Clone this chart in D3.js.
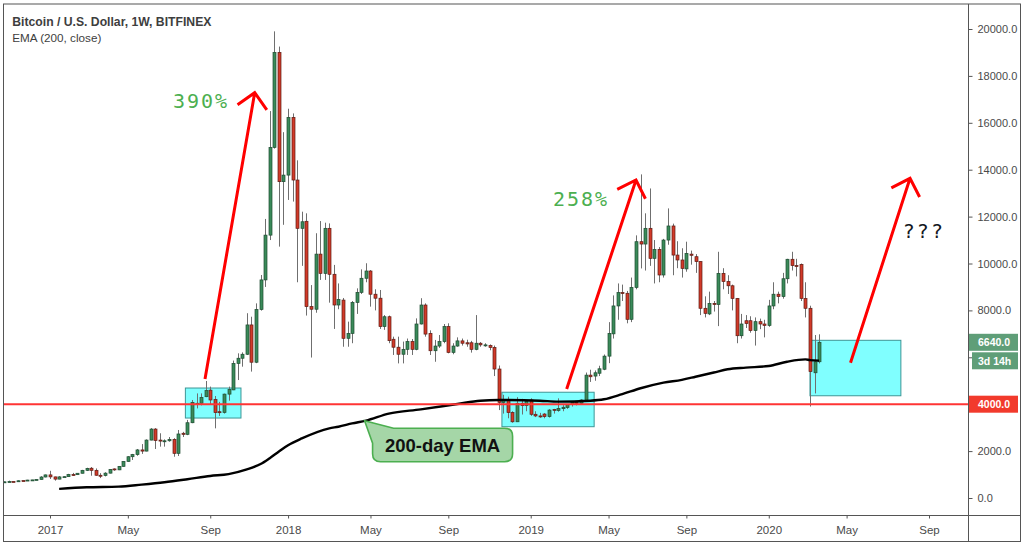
<!DOCTYPE html>
<html>
<head>
<meta charset="utf-8">
<script src="https://cdn.jsdelivr.net/npm/d3@7"></script>
<style>
  html, body { margin: 0; padding: 0; background: #fff; }
  svg { display: block; font-family: 'Liberation Sans', Arial, sans-serif; }
</style>
</head>
<body>
<svg id="chart" width="1030" height="547"></svg>
<script>
/* Weekly BTC/USD candles (Bitfinex), first week Mon 2016-10-24, last week Mon 2020-03-23 */
const firstWeek = '2016-10-24'
const lastWeek = '2020-03-23'

const opens = [
  660, 690, 705, 700, 740, 730, 765, 772, 790, 895,
  985, 900, 805, 900, 910, 1000, 995, 1055, 1180, 1270,
  1180, 970, 960, 1060, 1240, 1200, 1350, 1560, 1760, 1850,
  2050, 2000, 2470, 2940, 2470, 2430, 2440, 2500, 1905, 2760,
  2715, 3210, 3990, 4040, 4320, 4600, 4200, 3680, 3650, 4430,
  4610, 5740, 5960, 6130, 7380, 5790, 8040, 9300, 11210, 14950,
  19000, 13490, 13770, 16230, 13560, 11500, 11800, 8160, 8050, 10400,
  9580, 11500, 9540, 8230, 8440, 6810, 7020, 8340, 8770, 9370,
  9680, 8690, 8520, 7310, 7730, 6770, 6430, 6130, 6340, 6670,
  6340, 7420, 8230, 7020, 6280, 6480, 6670, 7310, 6210, 6480,
  6700, 6620, 6620, 6340, 6600, 6530, 6500, 6420, 5500, 4080,
  4180, 3640, 3250, 4040, 3940, 4180, 3570, 3500, 3580, 3470,
  3780, 3730, 3810, 3860, 3990, 4080, 4040, 4110, 5240, 5200,
  5320, 5490, 6050, 7000, 8190, 8760, 8730, 7620, 8980, 10930,
  10830, 11500, 10220, 10600, 9510, 11000, 11600, 10360, 10150, 9770,
  10400, 10290, 10080, 8090, 7850, 8300, 8250, 9580, 9230, 9050,
  8510, 6920, 7560, 7560, 7140, 7520, 7420, 7360, 8190, 8690,
  8590, 9350, 10180, 9910, 9960, 8510, 8090, 5340, 5810
]
const highs = [
  705, 740, 720, 750, 750, 775, 775, 800, 930, 1000,
  1160, 910, 930, 925, 1030, 1070, 1060, 1200, 1290, 1320,
  1260, 1060, 1100, 1230, 1260, 1360, 1570, 1780, 1880, 2090,
  2300, 2500, 2980, 2980, 2760, 2500, 2600, 2550, 2900, 2820,
  3330, 4180, 4460, 4460, 4990, 4750, 4350, 4100, 4450, 4750,
  5860, 6170, 6210, 7880, 7730, 8300, 9510, 11900, 16500, 19900,
  19250, 15600, 16600, 16400, 14400, 12210, 12140, 9080, 11290, 11810,
  11740, 11710, 9940, 9150, 8530, 7520, 8400, 8940, 9750, 10010,
  9720, 8900, 8870, 7800, 7780, 6880, 6880, 6670, 6800, 6780,
  7660, 8520, 8300, 7150, 6740, 6950, 7420, 7450, 6600, 6850,
  6800, 6750, 6700, 7800, 6650, 6600, 6550, 6500, 5650, 4400,
  4320, 3700, 4300, 4230, 4120, 4250, 3700, 3630, 3620, 3790,
  3800, 4250, 3960, 4000, 4100, 4120, 4210, 5350, 5470, 5440,
  5640, 6120, 7500, 8640, 9150, 9100, 8830, 9400, 11200, 13800,
  12140, 13200, 11000, 10700, 11050, 12350, 11700, 10950, 10650, 10930,
  10550, 10400, 10100, 8600, 8800, 8400, 10500, 9800, 9500, 9100,
  8530, 7850, 7800, 7750, 7700, 7650, 7600, 8450, 9200, 8800,
  9600, 10200, 10500, 10200, 10000, 9200, 8200, 6950, 6980
]
const lows = [
  650, 680, 690, 690, 720, 725, 750, 760, 785, 880,
  810, 740, 800, 880, 900, 950, 980, 1050, 1150, 950,
  950, 850, 920, 1050, 1160, 1190, 1340, 1550, 1620, 1800,
  1880, 1990, 2460, 2090, 2190, 2190, 2400, 1760, 1790, 2600,
  2680, 3190, 3820, 3950, 4300, 4000, 2970, 3500, 3600, 4150,
  4600, 5030, 5600, 6100, 5390, 5750, 7990, 9000, 11000, 14900,
  10720, 11650, 12710, 12640, 9200, 9900, 7780, 5990, 7900, 9300,
  9300, 8330, 7210, 8050, 6450, 6450, 6600, 7850, 8700, 9200,
  8160, 8000, 7210, 7170, 6600, 6100, 5740, 5740, 6100, 6100,
  6300, 7400, 6880, 6100, 5810, 6400, 6600, 6170, 6130, 6450,
  6500, 6450, 6200, 6300, 6450, 6450, 6300, 5200, 3750, 3600,
  3400, 3210, 3240, 3560, 3700, 3500, 3450, 3420, 3400, 3430,
  3600, 3680, 3700, 3800, 3900, 3950, 3990, 4100, 4950, 5000,
  5200, 5450, 5750, 6800, 7600, 8400, 7450, 7500, 8900, 9790,
  9700, 9900, 9150, 9200, 9400, 10800, 9500, 9800, 9400, 9650,
  9950, 9600, 7800, 7700, 7800, 7950, 7330, 8900, 8700, 8000,
  6600, 6800, 7250, 7050, 6500, 7200, 6850, 7300, 8050, 8300,
  8500, 9150, 9700, 9450, 8400, 7700, 3900, 4460, 5740
]
const closes = [
  690, 700, 700, 735, 730, 765, 772, 790, 895, 985,
  900, 805, 900, 910, 1000, 995, 1055, 1180, 1260, 1180,
  970, 960, 1060, 1220, 1200, 1350, 1560, 1760, 1850, 2050,
  2000, 2470, 2940, 2450, 2430, 2440, 2500, 1905, 2730, 2715,
  3210, 4070, 4040, 4290, 4580, 4180, 3640, 3640, 4430, 4630,
  5740, 5960, 6130, 7380, 5790, 8040, 9300, 11210, 14950, 19000,
  13490, 13770, 16230, 13560, 11500, 11780, 8160, 8050, 10400, 9580,
  11500, 9540, 8230, 8470, 6810, 7020, 8340, 8770, 9370, 9680,
  8690, 8520, 7310, 7730, 6710, 6430, 6130, 6340, 6670, 6340,
  7420, 8230, 6990, 6280, 6480, 6670, 7310, 6210, 6480, 6700,
  6600, 6570, 6340, 6600, 6530, 6530, 6420, 5500, 4080, 4180,
  3640, 3250, 4040, 3940, 4110, 3570, 3500, 3490, 3470, 3750,
  3740, 3820, 3870, 3990, 4080, 4040, 4180, 5240, 5170, 5340,
  5510, 6050, 7020, 8190, 8760, 8730, 7620, 8980, 10930, 10830,
  11500, 10220, 10600, 9510, 11000, 11600, 10360, 10150, 9790, 10430,
  10350, 10080, 8090, 7875, 8300, 8250, 9580, 9230, 9050, 8510,
  6920, 7420, 7440, 7140, 7520, 7420, 7360, 8190, 8690, 8590,
  9350, 10180, 9910, 9880, 8510, 8090, 5390, 5810, 6640
]

/* EMA (200, close), read at a few weeks (index into the weekly bars) */
const emaWeeks = [12, 18, 25, 30, 35, 40, 45, 49, 53, 56, 58, 60, 62, 65, 71, 73, 76, 79, 84, 91,
  99, 104, 108, 117, 121, 128, 131, 135, 139, 144, 148, 151, 155, 158, 162, 167, 171, 175, 176, 178]
const emaValues = [390, 456, 485, 570, 670, 800, 940, 1020, 1220, 1450, 1700, 1980, 2250, 2540, 2970, 3040, 3180, 3300, 3600, 3780,
  4010, 4150, 4180, 4150, 4110, 4150, 4210, 4430, 4680, 4920, 5040, 5170, 5350, 5490, 5560, 5630, 5810, 5910, 5880, 5860]

/* axes (the 6000 label sits behind the price tags, only its tick shows) */
const yTicks = [0, 2000, 4000, 6000, 8000, 10000, 12000, 14000, 16000, 18000, 20000]
const hiddenYLabels = [4000, 6000]
const xTickDates = ['2017-01-02', '2017-05-01', '2017-09-04', '2018-01-01', '2018-05-07', '2018-09-03',
  '2019-01-07', '2019-05-06', '2019-09-02', '2020-01-06', '2020-05-04', '2020-09-07']
const xTickLabels = ['2017', 'May', 'Sep', '2018', 'May', 'Sep', '2019', 'May', 'Sep', '2020', 'May', 'Sep']

/* drawings on the chart: [from date, to date, top price, bottom price] */
const zoneBoxes = [
  ['2017-07-28', '2017-10-21', 4690, 3410],
  ['2018-11-24', '2019-04-14', 4510, 3040],
  ['2020-03-09', '2020-07-26', 6725, 4360]
]
/* arrows: [tail date, tail price, tip date, tip price] */
const arrows = [
  ['2017-08-27', 5075, '2017-11-11', 17283],
  ['2019-03-03', 4648, '2019-06-17', 13561],
  ['2020-05-10', 5770, '2020-08-09', 13633]
]
/* texts: [date, baseline price, text, colour] */
const notes = [
  ['2017-07-09', 16631, '390%', '#4caf50'],
  ['2019-02-10', 12465, '258%', '#4caf50'],
  ['2020-07-29', 11074, '???', '#131722']
]
const supportLevel = 4000
const lastPrice = 6640
const countdown = '3d 14h'
const emaCallout = { date: '2018-04-28', value: 3296, text: '200-day EMA' }

const plotLeft = 3.5
const plotTop = 4
const axisX = 968.5
const axisY = 515.5
const frameBottom = 541.5
const frameRight = 1020.5

const UP = '#3a8a5a'
const UP_EDGE = '#1d4a30'
const DOWN = '#d23a29'
const DOWN_EDGE = '#5c1a13'

const svg = d3.select('#chart')
const x = d3.scaleUtc()
  .domain([new Date('2017-01-02'), new Date('2020-09-07')])
  .range([50, 929])
const y = d3.scaleLinear().domain([0, 20000]).range([498, 29])

const weeks = d3.utcMonday.range(new Date(firstWeek), d3.utcDay.offset(new Date(lastWeek), 1))
const candles = weeks.map((d, i) => ({
  date: d, open: opens[i], high: highs[i], low: lows[i], close: closes[i]
}))

svg.append('defs').append('clipPath').attr('id', 'plot')
  .append('rect').attr('x', plotLeft).attr('y', plotTop)
  .attr('width', axisX - plotLeft).attr('height', axisY - plotTop)

const plot = svg.append('g').attr('clip-path', 'url(#plot)')

/** Cyan zones, drawn beneath the candles */
plot.selectAll('rect.zone')
  .data(zoneBoxes)
  .join('rect').attr('class', 'zone')
  .attr('x', b => x(new Date(b[0])))
  .attr('y', b => y(b[2]))
  .attr('width', b => x(new Date(b[1])) - x(new Date(b[0])))
  .attr('height', b => y(b[3]) - y(b[2]))
  .attr('fill', '#80ffff')
  .attr('stroke', '#3e9696')
  .attr('stroke-width', 1)

/* candles */
const cx = d => Math.round(x(d.date))
plot.selectAll('line.wick')
  .data(candles)
  .join('line').attr('class', 'wick')
  .attr('x1', d => cx(d) + 0.5).attr('x2', d => cx(d) + 0.5)
  .attr('y1', d => y(d.high)).attr('y2', d => y(d.low))
  .attr('stroke', '#6f6f6f').attr('stroke-width', 1)

plot.selectAll('rect.body')
  .data(candles)
  .join('rect').attr('class', 'body')
  .attr('x', d => cx(d) - 1)
  .attr('width', 3)
  .attr('y', d => y(Math.max(d.open, d.close)))
  .attr('height', d => Math.max(1, Math.abs(y(d.open) - y(d.close))))
  .attr('fill', d => d.close >= d.open ? UP : DOWN)
  .attr('stroke', d => d.close >= d.open ? UP_EDGE : DOWN_EDGE)
  .attr('stroke-width', 0.7)

/* EMA line */
const emaLine = d3.line()
  .x(i => x(weeks[i]))
  .y((i, k) => y(emaValues[k]))
  .curve(d3.curveMonotoneX)
plot.append('path')
  .attr('d', emaLine(emaWeeks))
  .attr('fill', 'none')
  .attr('stroke', '#000')
  .attr('stroke-width', 2.4)
  .attr('stroke-linejoin', 'round')

/* horizontal support line */
plot.append('line')
  .attr('x1', plotLeft).attr('x2', axisX)
  .attr('y1', y(supportLevel)).attr('y2', y(supportLevel))
  .attr('stroke', '#ff3434').attr('stroke-width', 2)

/** Open arrow head, two wings at 45 degrees from the shaft */
function arrowPath (a) {
  const x0 = x(new Date(a[0]))
  const y0 = y(a[1])
  const x1 = x(new Date(a[2]))
  const y1 = y(a[3])
  const ang = Math.atan2(y0 - y1, x0 - x1)
  const len = 21
  const w1 = [x1 + len * Math.cos(ang + Math.PI / 4), y1 + len * Math.sin(ang + Math.PI / 4)]
  const w2 = [x1 + len * Math.cos(ang - Math.PI / 4), y1 + len * Math.sin(ang - Math.PI / 4)]
  return `M${x0},${y0}L${x1},${y1}M${w1}L${x1},${y1}L${w2}`
}
plot.selectAll('path.arrow')
  .data(arrows)
  .join('path').attr('class', 'arrow')
  .attr('d', arrowPath)
  .attr('fill', 'none')
  .attr('stroke', '#ff0000')
  .attr('stroke-width', 3)
  .attr('stroke-linejoin', 'miter')

plot.selectAll('text.note')
  .data(notes)
  .join('text').attr('class', 'note')
  .attr('x', n => x(new Date(n[0])))
  .attr('y', n => y(n[1]))
  .attr('fill', n => n[3])
  .style('font-family', "'DejaVu Sans Mono', monospace")
  .style('font-size', '20px')
  .style('letter-spacing', '2px')
  .text(n => n[2])

/* EMA callout */
{
  const px = x(new Date(emaCallout.date))
  const py = y(emaCallout.value)
  const bx0 = px + 8
  const by0 = py + 7.5
  const bx1 = px + 148
  const by1 = py + 41
  const r = 8
  const d = `M${px},${py}L${bx0 + 21},${by0}L${bx1 - r},${by0}Q${bx1},${by0} ${bx1},${by0 + r}` +
    `L${bx1},${by1 - r}Q${bx1},${by1} ${bx1 - r},${by1}L${bx0 + r},${by1}Q${bx0},${by1} ${bx0},${by1 - r}` +
    `L${bx0},${by0 + 15}Z`
  plot.append('path').attr('d', d)
    .attr('fill', '#a5d6a7').attr('stroke', '#4caf50').attr('stroke-width', 1.6)
  plot.append('text')
    .attr('x', (bx0 + bx1) / 2).attr('y', py + 31.5)
    .attr('text-anchor', 'middle')
    .attr('fill', '#111')
    .style('font-size', '18.5px').style('font-weight', 'bold')
    .text(emaCallout.text)
}

/* frame */
const frame = svg.append('g').attr('stroke', '#555').attr('stroke-width', 1).attr('fill', 'none')
frame.append('rect').attr('x', plotLeft).attr('y', plotTop)
  .attr('width', frameRight - plotLeft).attr('height', frameBottom - plotTop)
frame.append('line').attr('x1', plotLeft).attr('x2', frameRight).attr('y1', axisY).attr('y2', axisY)
frame.append('line').attr('x1', axisX).attr('x2', axisX).attr('y1', plotTop).attr('y2', frameBottom)

/* right price axis */
const yAxis = svg.append('g')
  .attr('transform', `translate(${axisX},0)`)
  .call(d3.axisRight(y).tickValues(yTicks).tickSize(4).tickPadding(5)
    .tickFormat(d => hiddenYLabels.includes(d) ? '' : d.toFixed(1)))
yAxis.select('.domain').remove()
yAxis.selectAll('line').attr('stroke', '#555')
yAxis.selectAll('text').attr('fill', '#4a4a4a').style('font-size', '11px')
  .style('font-family', "'Liberation Sans', Arial, sans-serif")

/* bottom time axis */
const xAxis = svg.append('g')
  .attr('transform', `translate(0,${axisY})`)
  .call(d3.axisBottom(x).tickValues(xTickDates.map(s => new Date(s))).tickSize(3).tickPadding(7)
    .tickFormat((d, i) => xTickLabels[i]))
xAxis.select('.domain').remove()
xAxis.selectAll('line').attr('stroke', '#555')
xAxis.selectAll('text').attr('fill', '#4a4a4a').style('font-size', '11.5px')
  .style('font-family', "'Liberation Sans', Arial, sans-serif")

/** Coloured price tag on the right axis */
function priceTag (yc, label, fill, x0) {
  const g = svg.append('g')
  g.append('rect').attr('x', x0).attr('y', yc - 8.5).attr('width', 1018 - x0).attr('height', 17).attr('fill', fill)
  g.append('text').attr('x', 978).attr('y', yc + 4).attr('fill', '#fff')
    .style('font-size', '10.5px').style('font-weight', 'bold').text(label)
}
priceTag(y(lastPrice), lastPrice.toFixed(1), '#5f9e78', axisX + 0.5)
priceTag(y(lastPrice) + 18.5, countdown, '#5f9e78', axisX + 3.5)
priceTag(y(supportLevel), supportLevel.toFixed(1), '#f23a2c', axisX + 0.5)

/* title */
svg.append('text').attr('x', 12.3).attr('y', 26).attr('fill', '#3e3e3e')
  .style('font-size', '12.2px').style('font-weight', 'bold')
  .text('Bitcoin / U.S. Dollar, 1W, BITFINEX')
svg.append('text').attr('x', 12.3).attr('y', 42).attr('fill', '#3e3e3e')
  .style('font-size', '11.7px')
  .text('EMA (200, close)')
</script>
</body>
</html>
